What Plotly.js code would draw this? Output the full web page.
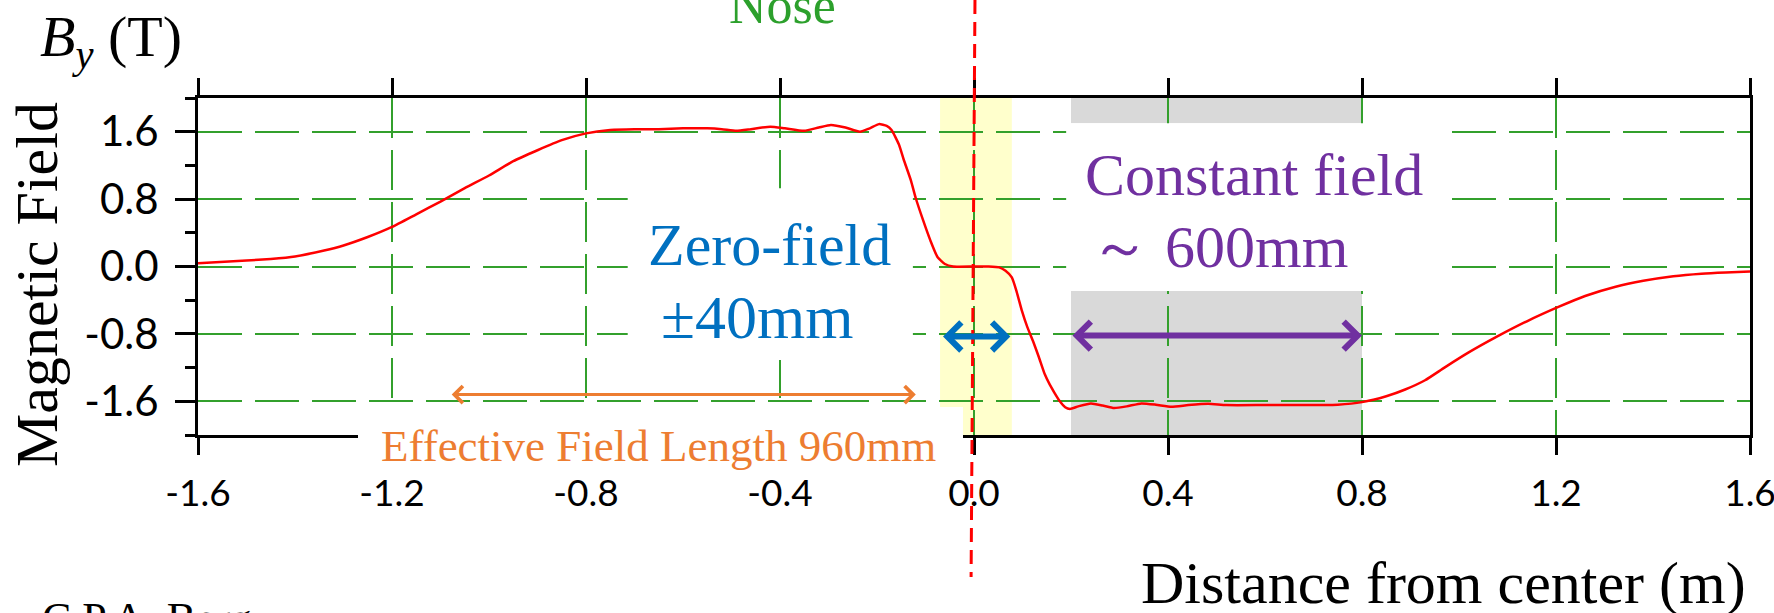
<!DOCTYPE html>
<html><head><meta charset="utf-8">
<script src="https://cdn.plot.ly/plotly-3.0.1.min.js"></script>
<style>html,body{margin:0;padding:0;background:#fff;overflow:hidden}#chart{width:1774px;height:613px}</style>
</head><body><div id="chart"></div>
<script>
// ---- data ----
const distance = [-1.60,-1.50,-1.45,-1.40,-1.34,-1.30,-1.25,-1.20,-1.15,-1.10,-1.05,-1.00,-0.95,-0.90,-0.85,-0.80,-0.75,-0.70,-0.65,-0.60,-0.55,-0.52,-0.49,-0.46,-0.42,-0.39,-0.35,-0.32,-0.295,-0.265,-0.235,-0.215,-0.196,-0.18,-0.17,-0.155,-0.145,-0.13,-0.12,-0.105,-0.09,-0.075,-0.06,-0.043,0.0,0.03,0.052,0.065,0.078,0.088,0.099,0.11,0.122,0.134,0.146,0.156,0.165,0.177,0.188,0.198,0.215,0.241,0.265,0.289,0.315,0.345,0.375,0.407,0.442,0.483,0.52,0.60,0.70,0.75,0.80,0.85,0.889,0.93,0.97,1.02,1.079,1.14,1.205,1.26,1.323,1.38,1.442,1.50,1.55,1.60];
const fieldBy  = [0.04,0.07,0.09,0.12,0.19,0.25,0.35,0.47,0.62,0.77,0.93,1.08,1.25,1.38,1.50,1.58,1.62,1.63,1.63,1.64,1.64,1.63,1.61,1.63,1.66,1.64,1.61,1.65,1.68,1.65,1.60,1.64,1.69,1.67,1.62,1.45,1.27,1.02,0.81,0.55,0.31,0.11,0.03,0.0,0.0,0.0,-0.01,-0.05,-0.13,-0.30,-0.53,-0.72,-0.89,-1.08,-1.28,-1.40,-1.49,-1.60,-1.67,-1.69,-1.66,-1.625,-1.65,-1.68,-1.66,-1.625,-1.64,-1.665,-1.645,-1.63,-1.645,-1.645,-1.645,-1.64,-1.61,-1.54,-1.46,-1.35,-1.20,-1.02,-0.83,-0.65,-0.48,-0.35,-0.24,-0.17,-0.115,-0.085,-0.07,-0.06];
const xTickVals = [-1.6,-1.2,-0.8,-0.4,0,0.4,0.8,1.2,1.6];
const xTickText = ['-1.6','-1.2','-0.8','-0.4','0.0','0.4','0.8','1.2','1.6'];
const yTickVals = [-1.6,-0.8,0,0.8,1.6];
const yTickText = ['-1.6','-0.8','0.0','0.8','1.6'];
const zeroBand = [-0.07, 0.078];        // yellow zero-field band (m)
const zeroArrow = [-0.067, 0.075];      // blue arrow span (m)
const constantSpan = [0.2, 0.8];        // constant field span (m)
const effectiveSpan = [-1.08, -0.12];   // effective length arrow (m)
const noseX = [0.002, -0.006];          // red dashed centre line (top, bottom)

// ---- layout helpers (pixel geometry of the frame) ----
const W = 1774, H = 613, L = 198, R = 1750, T = 98, B = 435;
const XR = [-1.6, 1.6], YR = [-2, 2];
const pX = p => (p - L) / (R - L);
const pY = p => (B - p) / (B - T);
const dX = v => (v - XR[0]) / (XR[1] - XR[0]);

const serif = 'Liberation Serif, Times New Roman, serif';
const sans = 'Lato, Liberation Sans, sans-serif';
const green = '#2ca02c';
const gridGreen = '#33a02c';

const trace = {
  x: distance, y: fieldBy, type: 'scatter', mode: 'lines',
  line: {color: '#ff0000', width: 2.5, shape: 'spline', smoothing: 0.5},
  hoverinfo: 'skip'
};

function txt(text, x, y, size, color, extra) {
  return Object.assign({text, x: pX(x), y: pY(y), xref: 'paper', yref: 'paper',
    showarrow: false, xanchor: 'center', yanchor: 'middle',
    font: {family: serif, size, color}}, extra || {});
}
function dblArrow(x0, x1, y, color, width, size) {
  return {x: x1, y, ax: x0, ay: y, xref: 'x', yref: 'y', axref: 'x', ayref: 'y',
    text: '', showarrow: true, arrowside: 'end+start', arrowhead: 4, startarrowhead: 4,
    arrowsize: size, startarrowsize: size, arrowwidth: width, arrowcolor: color,
    standoff: 0, startstandoff: 0};
}

const layout = {
  width: W, height: H,
  margin: {l: L, r: W - R, t: T, b: H - B, pad: 0},
  paper_bgcolor: '#fff', plot_bgcolor: '#fff',
  showlegend: false,
  xaxis: {
    range: XR, tickmode: 'array', tickvals: xTickVals, ticktext: xTickText,
    showline: true, linecolor: '#000', linewidth: 3, mirror: 'ticks',
    ticks: 'outside', ticklen: 17, tickwidth: 3, tickcolor: '#000',
    showgrid: true, gridcolor: gridGreen, gridwidth: 2, griddash: '40px,12px',
    zeroline: false, ticklabelstandoff: 7, ticklabeloverflow: 'allow',
    tickfont: {family: sans, size: 37, color: '#000'}
  },
  yaxis: {
    range: YR, tickmode: 'array', tickvals: yTickVals, ticktext: yTickText,
    showline: true, linecolor: '#000', linewidth: 3, mirror: true,
    ticks: 'outside', ticklen: 20, tickwidth: 3, tickcolor: '#000',
    minor: {tickmode: 'linear', tick0: 0, dtick: 0.4, ticks: 'outside', ticklen: 10, tickwidth: 3, tickcolor: '#000', showgrid: false},
    showgrid: true, gridcolor: gridGreen, gridwidth: 2, griddash: '44px,13px',
    zeroline: false, ticklabelstandoff: 8, ticklabeloverflow: 'allow',
    tickfont: {family: sans, size: 42, color: '#000'}
  },
  shapes: [
    {type: 'rect', xref: 'x', yref: 'y', x0: zeroBand[0], x1: zeroBand[1], y0: YR[0], y1: YR[1],
      fillcolor: '#ffffcc', line: {width: 0}, layer: 'below'},
    {type: 'rect', xref: 'x', yref: 'y', x0: constantSpan[0], x1: constantSpan[1], y0: 1.7, y1: YR[1],
      fillcolor: '#d9d9d9', line: {width: 0}, layer: 'below'},
    {type: 'rect', xref: 'x', yref: 'y', x0: constantSpan[0], x1: constantSpan[1], y0: YR[0], y1: -0.29,
      fillcolor: '#d9d9d9', line: {width: 0}, layer: 'below'},
    // white label boxes hiding the grid
    {type: 'rect', xref: 'x', yref: 'y', x0: -0.714, x1: -0.126, y0: -1.11, y1: 0.93,
      fillcolor: '#fff', line: {width: 0}, layer: 'between'},
    {type: 'rect', xref: 'x', yref: 'y', x0: 0.19, x1: 0.983, y0: -0.29, y1: 1.7,
      fillcolor: '#fff', line: {width: 0}, layer: 'between'},
    {type: 'rect', xref: 'paper', yref: 'paper', x0: pX(358), x1: pX(963), y0: pY(480), y1: pY(407),
      fillcolor: '#fff', line: {width: 0}, layer: 'above'},
    // red dashed centre line
    {type: 'line', xref: 'paper', yref: 'paper', x0: dX(noseX[0]), x1: dX(noseX[1]), y0: pY(0), y1: pY(577),
      line: {color: '#ff0000', width: 3, dash: '14px,8px'}, layer: 'above'}
  ],
  annotations: [
    dblArrow(effectiveSpan[0], effectiveSpan[1], -1.52, '#ed7d31', 3, 1.1),
    dblArrow(zeroArrow[0], zeroArrow[1], -0.83, '#0070c0', 6, 0.9),
    dblArrow(constantSpan[0], constantSpan[1], -0.82, '#7030a0', 6, 0.9),
    txt('Nose', 782, 6, 52, green),
    txt('<i>B</i><sub><i>y</i></sub> (T)', 38, 40, 58, '#000', {xanchor: 'left'}),
    txt('Magnetic Field', 37, 285, 60, '#000', {textangle: -90}),
    txt('Distance from center (m)', 1748, 583, 60, '#000', {xanchor: 'right'}),
    txt('Zero-field', 769, 245, 60, '#0070c0'),
    txt('±40mm', 757, 317, 62, '#0070c0'),
    txt('Constant field', 1254, 175, 60, '#7030a0'),
    txt('～ 600mm', 1219, 247, 60, '#7030a0'),
    txt('Effective Field Length 960mm', 658, 446, 45, '#ed7d31'),
    txt('C.P.A. Berg', 40, 618, 44, '#000', {xanchor: 'left'})
  ]
};

Plotly.newPlot('chart', [trace], layout, {staticPlot: true, displayModeBar: false});
</script>
</body></html>
